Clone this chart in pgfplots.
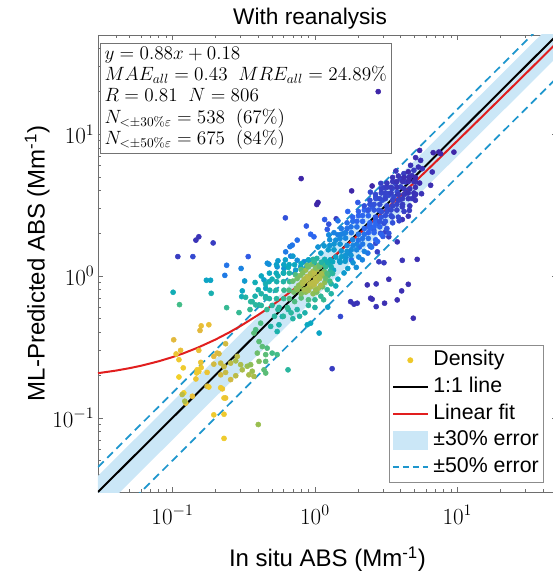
\documentclass[border=0pt]{standalone}
\usepackage[no-math]{fontspec}
\setmainfont{Liberation Sans}
\usepackage{pgfplots}
\usepackage{pgfplotstable}
\pgfplotsset{compat=1.18}
\definecolor{bandblue}{RGB}{203,231,247}
\definecolor{dashblue}{RGB}{30,150,205}
\definecolor{fitred}{RGB}{225,30,30}
\definecolor{legyellow}{RGB}{238,200,40}
\definecolor{axgray}{RGB}{110,110,110}

\pgfplotsset{
  legdot/.style={legend image code/.code={\path[draw=none,fill=none] (0pt,-6pt) rectangle (26pt,6pt); \draw[only marks, mark=*, mark size=2pt, color=legyellow] plot coordinates {(13pt,0pt)};}},
  legblack/.style={legend image code/.code={\path[draw=none,fill=none] (0pt,-6pt) rectangle (26pt,6pt); \fill[black] (0pt,-0.6pt) rectangle (26pt,0.6pt);}},
  legred/.style={legend image code/.code={\path[draw=none,fill=none] (0pt,-6pt) rectangle (26pt,6pt); \fill[fitred] (0pt,-0.6pt) rectangle (26pt,0.6pt);}},
  legarea/.style={legend image code/.code={\fill[bandblue] (0pt,-6.75pt) rectangle (26pt,6.75pt);}},
  legdash/.style={legend image code/.code={\path[draw=none,fill=none] (0pt,-6pt) rectangle (26pt,6pt); \draw[dashblue, line width=1.2pt, dash pattern=on 4.5pt off 3pt] (0pt,0pt) -- (26pt,0pt);}},
}

\pgfplotstableread{
x y c
0.80 4.86 0.0
1.03 3.19 0.0
1.05 3.30 0.0
0.62 2.57 0.1
2.52 4.31 0.0
1.81 3.98 0.0
9.45 7.47 0.0
1.17 2.50 0.12
1.41 2.53 0.05
0.87 2.25 0.12
0.146 1.79 0.03
0.153 1.89 0.03
0.193 1.71 0.05
0.109 1.37 0.05
0.139 1.37 0.08
0.34 1.37 0.12
0.24 1.19 0.2
0.303 1.13 0.25
0.233 1.01 0.22
0.173 0.933 0.4
0.185 0.933 0.4
0.321 0.922 0.35
0.101 0.768 0.45
0.187 0.755 0.47
0.309 0.785 0.42
0.306 0.715 0.45
0.326 0.708 0.5
0.112 0.628 0.58
0.24 0.598 0.55
0.293 0.552 0.55
0.363 0.659 0.5
0.405 0.625 0.5
0.451 0.715 0.45
0.439 0.937 0.38
0.451 0.819 0.42
0.463 1.23 0.3
0.354 0.659 0.52
0.384 0.625 0.52
0.159 0.445 0.88
0.180 0.453 0.88
0.156 0.413 0.85
0.102 0.355 0.85
0.106 0.282 0.9
0.114 0.299 0.88
0.111 0.257 0.92
0.153 0.299 0.88
0.119 0.225 0.93
0.149 0.218 0.93
0.159 0.226 0.92
0.148 0.207 0.92
0.146 0.188 0.9
0.111 0.194 0.95
0.120 0.150 0.95
0.138 0.142 0.88
0.124 0.127 0.9
0.175 0.167 0.82
0.195 0.105 0.92
0.23 0.106 0.92
0.23 0.0716 0.93
0.40 0.0897 0.72
0.224 0.160 0.9
0.23 0.138 0.92
0.236 0.333 0.82
0.206 0.286 0.85
0.212 0.283 0.83
0.195 0.271 0.85
0.158 0.246 0.9
0.153 0.212 0.92
0.175 0.209 0.9
0.117 0.146 0.78
0.122 0.131 0.75
0.180 0.165 0.92
0.218 0.163 0.92
0.236 0.138 0.9
0.195 0.239 0.82
0.218 0.243 0.8
0.23 0.230 0.8
0.256 0.243 0.78
0.278 0.252 0.75
0.301 0.237 0.75
0.285 0.271 0.78
0.218 0.201 0.82
0.236 0.209 0.8
0.256 0.186 0.82
0.278 0.198 0.78
0.309 0.218 0.75
0.335 0.231 0.72
0.354 0.237 0.7
0.363 0.213 0.72
0.373 0.196 0.75
0.405 0.25 0.68
0.344 0.201 0.75
0.373 0.396 0.62
0.405 0.345 0.62
0.427 0.318 0.62
0.394 0.286 0.65
0.451 0.279 0.62
0.384 0.418 0.6
0.416 0.465 0.6
0.462 0.31 0.6
0.501 0.286 0.58
0.543 0.279 0.58
0.543 0.406 0.48
0.559 0.453 0.48
0.489 0.441 0.5
0.59 0.518 0.45
0.451 0.25 0.62
0.439 0.218 0.62
0.451 0.207 0.62
0.647 0.218 0.52
0.933 0.465 0.42
0.883 0.453 0.42
1.07 0.396 0.4
1.23 0.603 0.38
2.33 0.865 0.02
1.78 0.659 0.03
1.88 0.633 0.03
1.98 0.643 0.03
2.46 0.697 0.02
2.52 0.686 0.02
1.51 0.518 0.08
1.32 0.222 0.05
3.30 0.948 0.02
2.69 0.879 0.03
4.52 0.874 0.02
4.06 0.785 0.02
3.78 0.678 0.02
2.69 0.608 0.03
3.08 0.643 0.02
4.90 0.504 0.02
4.10 1.29 0.03
5.22 1.31 0.02
2.81 1.26 0.05
3.05 1.24 0.05
1.25 2.32 0.1
1.22 2.13 0.12
0.933 1.97 0.15
0.984 1.89 0.15
0.751 1.79 0.18
0.693 1.65 0.2
0.668 1.61 0.22
0.623 1.48 0.22
0.675 1.38 0.25
0.475 1.21 0.3
0.543 1.16 0.32
0.606 1.13 0.33
0.751 1.29 0.3
0.837 1.26 0.3
0.908 1.29 0.28
0.984 1.23 0.3
0.794 1.16 0.35
0.861 1.13 0.35
0.732 1.10 0.36
2.78 19.95 0.0
5.43 7.68 0.0
6.76 7.40 0.0
7.41 7.48 0.0
7.62 7.28 0.0
5.09 6.83 0.02
5.52 6.53 0.02
5.32 5.86 0.03
5.67 5.71 0.03
4.69 6.03 0.03
4.95 5.56 0.05
4.21 5.27 0.05
4.57 4.99 0.05
3.99 4.86 0.06
4.33 4.60 0.06
3.68 4.48 0.07
3.99 4.25 0.07
3.49 4.13 0.08
3.78 3.91 0.08
3.30 3.81 0.08
3.13 3.65 0.09
3.58 3.61 0.08
6.66 5.41 0.02
6.49 4.36 0.02
5.09 4.60 0.04
3.05 4.20 0.06
5.09 3.77 0.03
4.82 3.52 0.04
2.67 3.61 0.1
2.97 3.42 0.1
3.30 3.71 0.08
2.52 3.07 0.12
2.81 2.91 0.12
3.22 2.99 0.1
3.49 2.61 0.08
2.67 2.48 0.12
3.05 2.35 0.1
2.59 2.10 0.1
2.89 2.00 0.08
3.13 2.05 0.07
3.30 1.89 0.05
3.78 1.74 0.03
2.67 1.70 0.08
2.46 1.61 0.1
2.74 1.48 0.06
4.10 2.50 0.03
4.10 3.07 0.05
4.52 2.64 0.03
5.03 3.71 0.03
0.60 1.05 0.45
0.65 1.15 0.44
0.55 1.00 0.46
0.72 1.20 0.42
0.80 1.22 0.42
0.90 1.30 0.4
0.50 0.95 0.46
0.45 0.88 0.46
0.40 0.80 0.47
0.38 0.72 0.48
0.42 1.00 0.42
0.50 0.62 0.52
0.45 0.70 0.5
0.42 0.62 0.52
0.55 0.58 0.52
0.65 0.58 0.5
0.75 0.58 0.5
0.85 0.55 0.48
1.30 0.88 0.5
1.22 0.80 0.52
1.10 0.72 0.54
1.00 0.68 0.54
0.90 0.62 0.52
1.80 1.30 0.2
1.75 1.45 0.24
2.05 1.60 0.18
1.35 1.10 0.4
1.28 1.05 0.42
1.50 1.25 0.35
1.65 1.35 0.3
1.60 2.00 0.22
1.45 1.95 0.24
2.35 2.90 0.12
2.40 2.25 0.14
2.55 2.20 0.13
2.75 2.35 0.12
4.40 3.85 0.05
3.95 3.45 0.06
4.80 5.10 0.03
0.42 0.75 0.5
0.46 0.58 0.55
0.52 0.52 0.52
0.60 0.52 0.52
0.70 0.50 0.5
0.78 0.52 0.5
0.38 0.90 0.45
0.35 0.58 0.55
0.62 1.30 0.38
0.70 1.38 0.35
0.55 1.28 0.35
1.15 0.68 0.55
1.30 0.75 0.5
1.40 0.85 0.45
1.45 0.95 0.42
1.00 0.60 0.5
1.95 1.15 0.3
1.25 1.95 0.28
2.35 1.45 0.2
1.45 2.45 0.2
2.75 1.75 0.15
1.70 2.85 0.15
3.30 2.00 0.1
2.00 3.30 0.12
3.90 2.45 0.07
2.45 3.90 0.08
4.60 2.90 0.05
2.90 4.50 0.06
5.60 3.80 0.03
3.70 5.50 0.04
2.15 1.30 0.25
1.60 1.05 0.35
1.10 1.45 0.38
1.05 1.60 0.32
2.50 1.60 0.18
3.00 1.90 0.12
}\pts

\begin{document}
\begin{tikzpicture}
\begin{axis}[
  name=ax,
  scale only axis,
  width=344.25pt, height=342.75pt,
  xmode=log, ymode=log,
  xmin=0.03, xmax=50, ymin=0.03, ymax=50,
  axis line style={axgray},
  every tick/.style={axgray},
  major tick length=4pt,
  minor tick length=2.5pt,
  tick label style={font=\fontsize{17}{20}\selectfont},
  xticklabel style={inner sep=0pt, yshift=-10pt},
  yticklabel style={inner sep=0pt, xshift=-2.5pt},
  every axis title shift=0pt,
  title={With reanalysis},
  title style={at={(axis description cs:0.462,1.0131)}, anchor=south, inner sep=0pt, font=\fontsize{17}{20}\selectfont},
  xlabel={In situ ABS (Mm\textsuperscript{-1})},
  ylabel={ML-Predicted ABS (Mm\textsuperscript{-1})},
  every axis x label/.style={at={(axis description cs:0.5,-0.1196)}, anchor=north, inner sep=0pt, font=\fontsize{18}{21}\selectfont},
  every axis y label/.style={at={(axis description cs:-0.1046,0.5)}, rotate=90, anchor=south, inner sep=0pt, font=\fontsize{18}{21}\selectfont},
  colormap={parula}{rgb255=(62,38,168) rgb255=(45,100,240) rgb255=(20,140,220) rgb255=(10,170,190) rgb255=(60,188,140) rgb255=(150,190,80) rgb255=(230,185,60) rgb255=(248,220,30)},
  point meta min=0, point meta max=1,
  legend style={at={(axis description cs:0.9717,0.3217)}, anchor=north east,
    draw=black!45, fill=white, inner xsep=2.25pt, inner ysep=2pt,
    font=\fontsize{16}{19}\selectfont, row sep=1.5pt, column sep=2.2pt,
    nodes={inner sep=1.5pt, text height=12pt, text depth=3.5pt}},
  legend cell align=left,
]
% +-30% band
\addplot[fill=bandblue, draw=none, forget plot] coordinates {(0.03,0.021) (50,35) (50,65) (0.03,0.039)} -- cycle;
% scatter (sparse part)
\addplot[only marks, scatter, scatter src=explicit, mark=*, mark size=1.9pt,
  scatter/use mapped color={draw=mapped color, fill=mapped color}, forget plot]
  table[x=x, y=y, meta=c] {\pts};
% scatter (dense core and diagonal band)
\addplot[only marks, scatter, scatter src=explicit, mark=*, mark size=1.9pt,
  scatter/use mapped color={draw=mapped color, fill=mapped color}, forget plot]
  coordinates {
 (0.479,0.692)[0.5] (0.482,0.794)[0.48] (0.477,0.912)[0.45] (0.479,1.047)[0.42]
 (0.537,0.692)[0.52] (0.533,0.794)[0.5] (0.539,0.912)[0.47] (0.535,1.047)[0.44] (0.537,1.202)[0.38]
 (0.603,0.692)[0.55] (0.606,0.794)[0.55] (0.601,0.912)[0.5] (0.603,1.047)[0.45] (0.605,1.202)[0.4]
 (0.661,0.692)[0.6] (0.658,0.794)[0.6] (0.663,0.912)[0.56] (0.661,1.047)[0.5] (0.659,1.202)[0.42]
 (0.56,0.60)[0.52] (0.64,0.60)[0.55] (0.72,0.66)[0.6] (0.80,0.70)[0.62] (0.90,0.68)[0.6] (0.68,0.55)[0.52]
 (0.71,0.77)[0.66] (0.74,0.82)[0.68] (0.70,0.92)[0.64] (0.73,1.02)[0.6]
 (0.80,0.75)[0.68] (0.78,0.84)[0.72] (0.81,0.90)[0.74] (0.79,1.01)[0.68] (0.80,1.11)[0.62]
 (0.86,0.77)[0.7] (0.89,0.82)[0.76] (0.85,0.92)[0.78] (0.88,0.99)[0.78] (0.86,1.10)[0.72] (0.88,1.19)[0.64]
 (0.97,0.75)[0.7] (0.94,0.84)[0.76] (0.97,0.90)[0.78] (0.94,1.01)[0.78] (0.97,1.08)[0.76] (0.95,1.21)[0.66] (0.97,1.31)[0.52]
 (1.03,0.77)[0.68] (1.06,0.82)[0.74] (1.03,0.92)[0.78] (1.06,0.99)[0.78] (1.03,1.11)[0.74] (1.06,1.19)[0.64] (1.03,1.33)[0.5]
 (1.13,0.84)[0.66] (1.17,0.90)[0.7] (1.13,1.01)[0.7] (1.16,1.08)[0.66] (1.14,1.21)[0.58] (1.17,1.31)[0.46]
 (1.27,0.92)[0.58] (1.24,1.01)[0.56] (1.28,1.08)[0.52] (1.25,1.21)[0.48] (1.28,1.30)[0.42]
 (0.75,0.80)[0.7] (0.77,0.86)[0.7] (0.75,0.96)[0.66]
 (0.84,0.80)[0.74] (0.82,0.88)[0.76] (0.84,0.95)[0.76] (0.82,1.05)[0.68]
 (0.90,0.79)[0.74] (0.92,0.88)[0.78] (0.90,0.96)[0.78] (0.93,1.04)[0.76] (0.90,1.16)[0.66]
 (1.01,0.80)[0.72] (0.99,0.87)[0.78] (1.01,0.96)[0.78] (0.99,1.05)[0.78] (1.01,1.14)[0.68] (0.99,1.26)[0.54]
 (1.10,0.86)[0.74] (1.08,0.96)[0.76] (1.11,1.04)[0.74] (1.08,1.16)[0.64] (1.11,1.25)[0.5]
 (1.19,0.96)[0.64] (1.22,1.04)[0.6] (1.19,1.16)[0.54] (1.22,1.25)[0.46]
 (1.33,1.04)[0.52] (1.30,1.16)[0.46] (1.33,1.26)[0.42]
 (1.70,1.13)[0.36] (1.49,1.28)[0.36] (1.40,1.36)[0.38] (1.24,1.53)[0.36] (1.16,1.63)[0.34]
 (1.63,1.27)[0.35] (1.54,1.37)[0.36] (1.36,1.53)[0.36] (1.27,1.64)[0.33]
 (1.85,1.24)[0.32] (1.64,1.40)[0.33] (1.53,1.50)[0.33] (1.36,1.68)[0.33] (1.27,1.80)[0.3]
 (1.79,1.40)[0.31] (1.68,1.49)[0.32] (1.50,1.68)[0.32] (1.40,1.79)[0.3]
 (2.03,1.36)[0.27] (1.80,1.53)[0.28] (1.68,1.64)[0.27] (1.50,1.84)[0.27] (1.36,2.02)[0.25]
 (1.96,1.53)[0.26] (1.85,1.64)[0.26] (1.64,1.85)[0.26] (1.53,1.97)[0.25]
 (2.22,1.49)[0.25] (1.97,1.68)[0.25] (1.84,1.80)[0.25] (1.64,2.02)[0.25] (1.53,2.16)[0.22]
 (2.16,1.68)[0.21] (2.02,1.79)[0.2] (1.80,2.02)[0.2] (1.68,2.16)[0.2]
 (2.43,1.64)[0.2] (2.16,1.84)[0.2] (2.02,1.97)[0.2] (1.79,2.22)[0.2] (1.68,2.37)[0.18]
 (2.37,1.84)[0.19] (2.22,1.97)[0.19] (1.97,2.22)[0.19] (1.84,2.43)[0.18]
 (2.67,1.80)[0.15] (2.37,2.02)[0.15] (2.22,2.16)[0.15] (1.97,2.43)[0.15] (1.84,2.60)[0.14]
 (2.60,2.02)[0.15] (2.43,2.16)[0.15] (2.16,2.43)[0.15] (2.02,2.66)[0.14]
 (2.92,1.97)[0.14] (2.60,2.22)[0.15] (2.43,2.37)[0.15] (2.16,2.67)[0.15] (2.02,2.85)[0.13]
 (2.85,2.22)[0.14] (2.67,2.37)[0.15] (2.37,2.66)[0.15] (2.22,2.92)[0.14]
 (3.20,2.16)[0.11] (2.85,2.43)[0.11] (2.66,2.60)[0.11] (2.37,2.92)[0.11] (2.22,3.12)[0.1]
 (3.12,2.43)[0.11] (2.92,2.60)[0.11] (2.60,2.92)[0.11] (2.43,3.20)[0.1]
 (3.51,2.37)[0.1] (3.12,2.67)[0.1] (2.92,2.85)[0.1] (2.60,3.20)[0.1] (2.43,3.42)[0.09]
 (3.42,2.66)[0.09] (3.20,2.85)[0.09] (2.85,3.20)[0.09] (2.67,3.51)[0.09]
 (3.85,2.60)[0.08] (3.42,2.92)[0.08] (3.20,3.12)[0.08] (2.85,3.51)[0.08] (2.66,3.76)[0.08]
 (3.76,2.92)[0.07] (3.51,3.12)[0.07] (3.12,3.51)[0.07] (2.92,3.85)[0.07]
 (4.22,2.85)[0.06] (3.76,3.20)[0.07] (3.51,3.42)[0.07] (3.12,3.85)[0.07] (2.92,4.12)[0.06]
 (4.12,3.20)[0.05] (3.85,3.42)[0.06] (3.42,3.85)[0.06] (3.20,4.22)[0.05]
 (4.63,3.12)[0.04] (4.12,3.51)[0.05] (3.85,3.76)[0.05] (3.42,4.22)[0.05] (3.20,4.52)[0.04]
 (4.52,3.51)[0.04] (4.22,3.76)[0.04] (3.76,4.22)[0.04] (3.51,4.63)[0.04]
 (5.07,3.42)[0.03] (4.52,3.85)[0.03] (4.22,4.12)[0.04] (3.76,4.63)[0.03] (3.51,4.95)[0.03]
 (4.95,3.85)[0.03] (4.63,4.12)[0.03] (4.12,4.63)[0.03] (3.85,5.07)[0.03]
 (5.07,4.22)[0.02] (4.52,4.63)[0.02] (4.22,4.95)[0.02]
 (4.95,4.63)[0.02] (4.63,4.95)[0.02]
 (5.07,4.95)[0.01] (5.43,4.52)[0.01] (4.52,5.43)[0.01]
  };
% +-50% lines
\addplot[dashblue, line width=1.3pt, dash pattern=on 6pt off 3.75pt, forget plot] coordinates {(0.03,0.045) (50,75)};
\addplot[dashblue, line width=1.3pt, dash pattern=on 6pt off 3.75pt, forget plot] coordinates {(0.03,0.015) (50,25)};
% 1:1
\addplot[black, line width=1.5pt, forget plot] coordinates {(0.03,0.03) (50,50)};
% linear fit y = 0.88x + 0.18
\addplot[color=fitred, line width=1.5pt, forget plot] coordinates {
(0.03,0.2064) (0.04,0.2152) (0.05,0.224) (0.06,0.2328) (0.08,0.2504) (0.1,0.268)
(0.12,0.2856) (0.15,0.312) (0.2,0.356) (0.25,0.40) (0.3,0.444) (0.4,0.532)
(0.5,0.62) (0.6,0.708) (0.8,0.884) (1,1.06) (1.2,1.236) (1.5,1.5) (2,1.94)
(2.5,2.38) (3,2.82) (4,3.70) (5,4.58) (7,6.34) (10,8.98) (15,13.38) (20,17.78)
(30,26.58) (50,44.18)};

\addlegendimage{legdot}
\addlegendentry{Density}
\addlegendimage{legblack}
\addlegendentry{1:1 line}
\addlegendimage{legred}
\addlegendentry{Linear fit}
\addlegendimage{legarea}
\addlegendentry{±30\% error}
\addlegendimage{legdash}
\addlegendentry{±50\% error}

\node[draw=black!55, fill=white, align=left, inner sep=3pt, anchor=north west,
  font=\fontsize{14}{15.8}\selectfont]
  at (axis description cs:0.005,0.982)
  {$y = 0.88x + 0.18$\\
   $MAE_{all} = 0.43\;\;MRE_{all} = 24.89\%$\\
   $R = 0.81\;\;N = 806$\\
   $N_{<\pm30\%\varepsilon} = 538\;\;(67\%)$\\
   $N_{<\pm50\%\varepsilon} = 675\;\;(84\%)$};
\end{axis}
\pgfresetboundingbox
\useasboundingbox ([shift={(-73.5pt,-61.5pt)}]ax.south west) rectangle ([shift={(-3.75pt,26.25pt)}]ax.north east);
\end{tikzpicture}
\end{document}
